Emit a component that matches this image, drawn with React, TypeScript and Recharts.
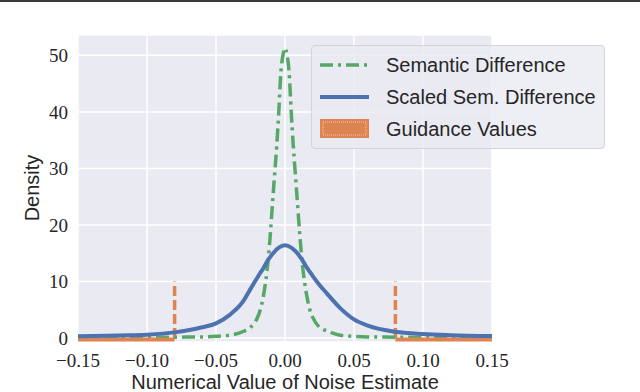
import React from 'react';
import { LineChart, Line, XAxis, YAxis, CartesianGrid, Legend, Label } from 'recharts';

const xValues = [
  -0.15, -0.12, -0.1, -0.08, -0.06, -0.05, -0.04, -0.03, -0.025, -0.02, -0.018, -0.016, -0.014, -0.012,
  -0.0105, -0.009, -0.0075, -0.006, -0.0045, -0.003, -0.0015, 0, 0.0015, 0.003, 0.0045, 0.006, 0.0075,
  0.009, 0.0105, 0.012, 0.014, 0.016, 0.018, 0.02, 0.025, 0.03, 0.04, 0.05, 0.06, 0.08, 0.1, 0.12, 0.15,
];

const semanticDiff = [
  0.05, 0.05, 0.1, 0.15, 0.2, 0.3, 0.5, 1.2, 1.9, 3.6, 4.9, 7.0, 10.0, 14.3,
  18.8, 24.0, 29.0, 34.0, 40.0, 47.0, 50.0, 51.3, 50.0, 47.0, 40.0, 34.0, 29.0,
  24.0, 19.0, 14.5, 10.2, 7.2, 5.0, 3.7, 1.9, 1.3, 0.5, 0.3, 0.2, 0.15, 0.1, 0.05, 0.05,
];

const scaledSemDiff = [
  0.3, 0.45, 0.6, 1.0, 1.9, 2.6, 4.1, 6.6, 8.7, 10.7, 11.5, 12.2, 13.1, 13.9,
  14.4, 14.9, 15.3, 15.7, 16.0, 16.2, 16.35, 16.4, 16.35, 16.2, 16.0, 15.7, 15.4,
  15.0, 14.5, 14.0, 13.2, 12.4, 11.7, 11.0, 9.4, 8.0, 5.3, 3.3, 2.2, 1.1, 0.7, 0.5, 0.35,
];

// guidance histogram: flat tails beyond +-0.08, marker lines up to 10
const guidanceEdges = [-0.15, -0.08, 0.08, 0.15];
const guidanceTail = -0.25;
const guidanceMarker = 10;

const xTicks = [-0.15, -0.1, -0.05, 0, 0.05, 0.1, 0.15];
const yTicks = [0, 10, 20, 30, 40, 50];

const data = xValues.map((x, i) => ({ x, semantic: semanticDiff[i], scaled: scaledSemDiff[i] }));
const guidLeft = [{ x: guidanceEdges[0], y: guidanceTail }, { x: guidanceEdges[1], y: guidanceTail }];
const guidRight = [{ x: guidanceEdges[2], y: guidanceTail }, { x: guidanceEdges[3], y: guidanceTail }];
const markLeft = [{ x: guidanceEdges[1], y: 0 }, { x: guidanceEdges[1], y: guidanceMarker }];
const markRight = [{ x: guidanceEdges[2], y: 0 }, { x: guidanceEdges[2], y: guidanceMarker }];

const BLUE = '#4C72B0';
const GREEN = '#55A868';
const ORANGE = '#DD8452';
const SANS = '"Liberation Sans", Arial, sans-serif';
const SERIF = '"Liberation Serif", "DejaVu Serif", serif';

const fmtX = (v: number) => (v < 0 ? '\u2212' : '') + Math.abs(v).toFixed(2);

const LegendBox = () => {
  const rows = [
    { name: 'Semantic Difference', kind: 'dashdot' },
    { name: 'Scaled Sem. Difference', kind: 'solid' },
    { name: 'Guidance Values', kind: 'patch' },
  ];
  return (
    <div
      style={{
        width: 294,
        height: 104,
        background: 'rgba(234,234,242,0.8)',
        border: '1px solid #d3d3db',
        borderRadius: 4,
        boxSizing: 'border-box',
        paddingTop: 3,
      }}
    >
      {rows.map((r) => (
        <div key={r.name} style={{ display: 'flex', alignItems: 'center', height: 32 }}>
          <svg width={68} height={24} style={{ marginLeft: 6 }}>
            {r.kind === 'dashdot' && (
              <line x1={2} x2={51} y1={12} y2={12} stroke={GREEN} strokeWidth={3.5} strokeDasharray="13 5 3 5" />
            )}
            {r.kind === 'solid' && <line x1={2} x2={51} y1={12} y2={12} stroke={BLUE} strokeWidth={4} />}
            {r.kind === 'patch' && (
              <g>
                <rect x={2} y={2} width={49} height={19} fill={ORANGE} />
                <rect x={5} y={5} width={43} height={13} fill="none" stroke="#f2c6a8" strokeWidth={1} strokeDasharray="1 1" />
              </g>
            )}
          </svg>
          <span style={{ fontFamily: SANS, fontSize: 20, color: '#262626' }}>{r.name}</span>
        </div>
      ))}
    </div>
  );
};

export default function App() {
  return (
    <div style={{ width: 640, height: 392, position: 'relative', background: '#fff' }}>
      <style>{'body{margin:0}'}</style>
      <div style={{ position: 'absolute', top: 0, left: 0, width: 640, height: 2, background: '#3a3a3a', zIndex: 2 }} />
      <LineChart width={640} height={392} data={data} margin={{ top: 35, right: 148, left: 0, bottom: 0 }}>
        <CartesianGrid fill="#EAEAF2" stroke="#ffffff" strokeWidth={1.5} />
        <XAxis
          dataKey="x"
          type="number"
          domain={[-0.15, 0.15]}
          ticks={xTicks}
          tickFormatter={fmtX}
          allowDataOverflow
          axisLine={false}
          tickLine={false}
          tickSize={0}
          tickMargin={12}
          height={50}
          tick={{ fill: '#262626', fontSize: 19, fontFamily: SERIF }}
        >
          <Label
            content={() => (
              <text x={285} y={389} textAnchor="middle" fontFamily={SANS} fontSize={20} fill="#262626">
                Numerical Value of Noise Estimate
              </text>
            )}
          />
        </XAxis>
        <YAxis
          type="number"
          domain={[-0.7, 53.6]}
          ticks={yTicks}
          allowDataOverflow
          axisLine={false}
          tickLine={false}
          tickSize={0}
          tickMargin={10}
          width={78}
          tick={{ fill: '#262626', fontSize: 19, fontFamily: SERIF }}
        >
          <Label
            content={() => (
              <text
                x={39}
                y={188}
                transform="rotate(-90 39 188)"
                textAnchor="middle"
                fontFamily={SANS}
                fontSize={20}
                fill="#262626"
              >
                Density
              </text>
            )}
          />
        </YAxis>
        <Line data={markLeft} dataKey="y" type="linear" stroke={ORANGE} strokeWidth={3.5} strokeDasharray="10 4" dot={false} isAnimationActive={false} legendType="none" />
        <Line data={markRight} dataKey="y" type="linear" stroke={ORANGE} strokeWidth={3.5} strokeDasharray="10 4" dot={false} isAnimationActive={false} legendType="none" />
        <Line dataKey="semantic" type="monotone" stroke={GREEN} strokeWidth={3.5} strokeDasharray="13 5 3 5" dot={false} isAnimationActive={false} />
        <Line data={guidLeft} dataKey="y" type="linear" stroke={ORANGE} strokeWidth={4} dot={false} isAnimationActive={false} legendType="none" />
        <Line data={guidRight} dataKey="y" type="linear" stroke={ORANGE} strokeWidth={4} dot={false} isAnimationActive={false} legendType="none" />
        <Line dataKey="scaled" type="monotone" stroke={BLUE} strokeWidth={4} dot={false} isAnimationActive={false} />
        <Legend
          layout="horizontal"
          verticalAlign="middle"
          align="center"
          wrapperStyle={{ top: 45, left: 311, width: 294 }}
          content={() => <LegendBox />}
        />
      </LineChart>
    </div>
  );
}
